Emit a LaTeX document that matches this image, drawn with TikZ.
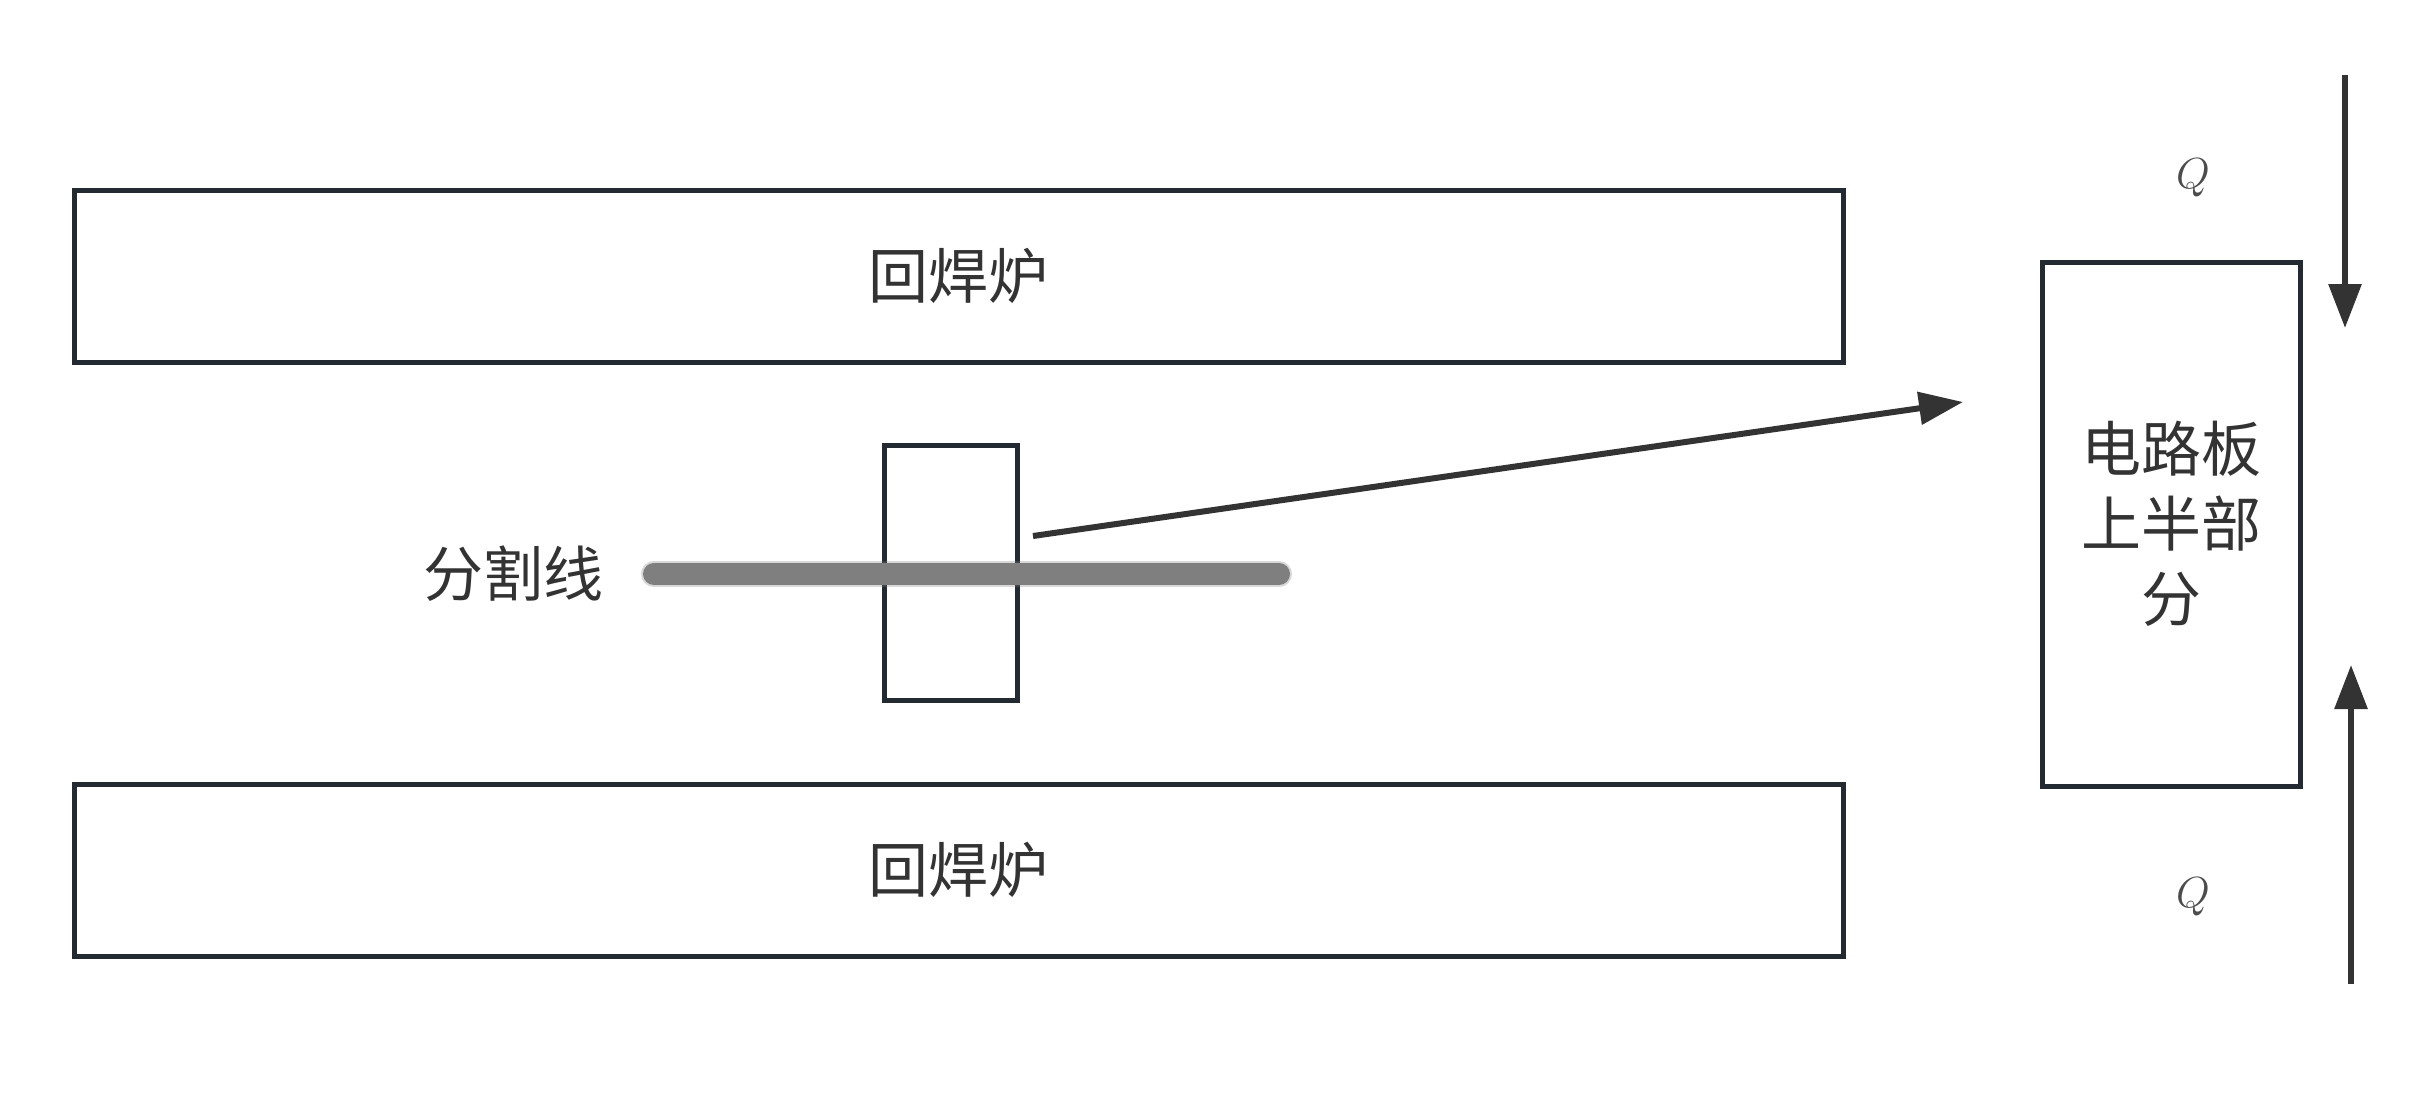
\documentclass[tikz,border=0pt]{standalone}
\usepackage{fontspec}
\newfontfamily\cjk{Noto Sans CJK SC}
\usetikzlibrary{arrows.meta}
\definecolor{boxline}{HTML}{232A31}
\definecolor{txt}{HTML}{333333}
\definecolor{cutgray}{HTML}{7F7F7F}
\tikzset{
  box/.style={draw=boxline, line width=5pt, fill=white, inner sep=0pt,
    font=\cjk\fontsize{60}{75}\selectfont, text=txt, align=center},
  lbl/.style={font=\cjk\fontsize{60}{75}\selectfont, text=txt, inner sep=0pt},
  qlbl/.style={font=\fontsize{24}{28}\selectfont, scale=1.75, text=black!70, inner sep=0pt},
  arr/.style={draw=txt, line width=6pt, -{Triangle[length=44pt,width=32pt]}},
  cut/.style={draw=cutgray, line width=22pt, line cap=round},
}
\begin{document}
\begin{tikzpicture}[x=1pt,y=-1pt]
\useasboundingbox[fill=white] (0,0) rectangle (2424,1098);
% furnaces
\node[box, minimum width=1769pt, minimum height=172pt] (oventop) at (958.5,276) {回焊炉};
\node[box, minimum width=1769pt, minimum height=172pt] (ovenbot) at (958.5,870) {回焊炉};
% dividing line
\coordinate (cutL) at (654,574);
\coordinate (cutR) at (1279,574);
\node[lbl, anchor=east] (cutlabel) at (604,574) {分割线};
% small board piece
\node[box, minimum width=133pt, minimum height=255pt] (piece) at (950.5,572.5) {};
\draw[cut, draw opacity=0.3, line width=26pt] (cutL) -- (cutR);
\draw[cut] (cutL) -- (cutR);
% board upper half
\node[box, minimum width=258pt, minimum height=524pt] (board) at (2171,524) {电路板\\上半部\\分};
% pointer arrow
\coordinate (pfrom) at (1033,536);
\coordinate (pto) at (1963,402);
\draw[arr] (pfrom) -- (pto);
% heat arrows
\coordinate (qtopS) at (2345,75);
\coordinate (qtopE) at (2345,328);
\coordinate (qbotS) at (2351,984);
\coordinate (qbotE) at (2351,665);
\draw[arr] (qtopS) -- (qtopE);
\draw[arr] (qbotS) -- (qbotE);
\node[qlbl] (qtop) at (2193,178) {$Q$};
\node[qlbl] (qbot) at (2193,897) {$Q$};
\end{tikzpicture}
\end{document}
